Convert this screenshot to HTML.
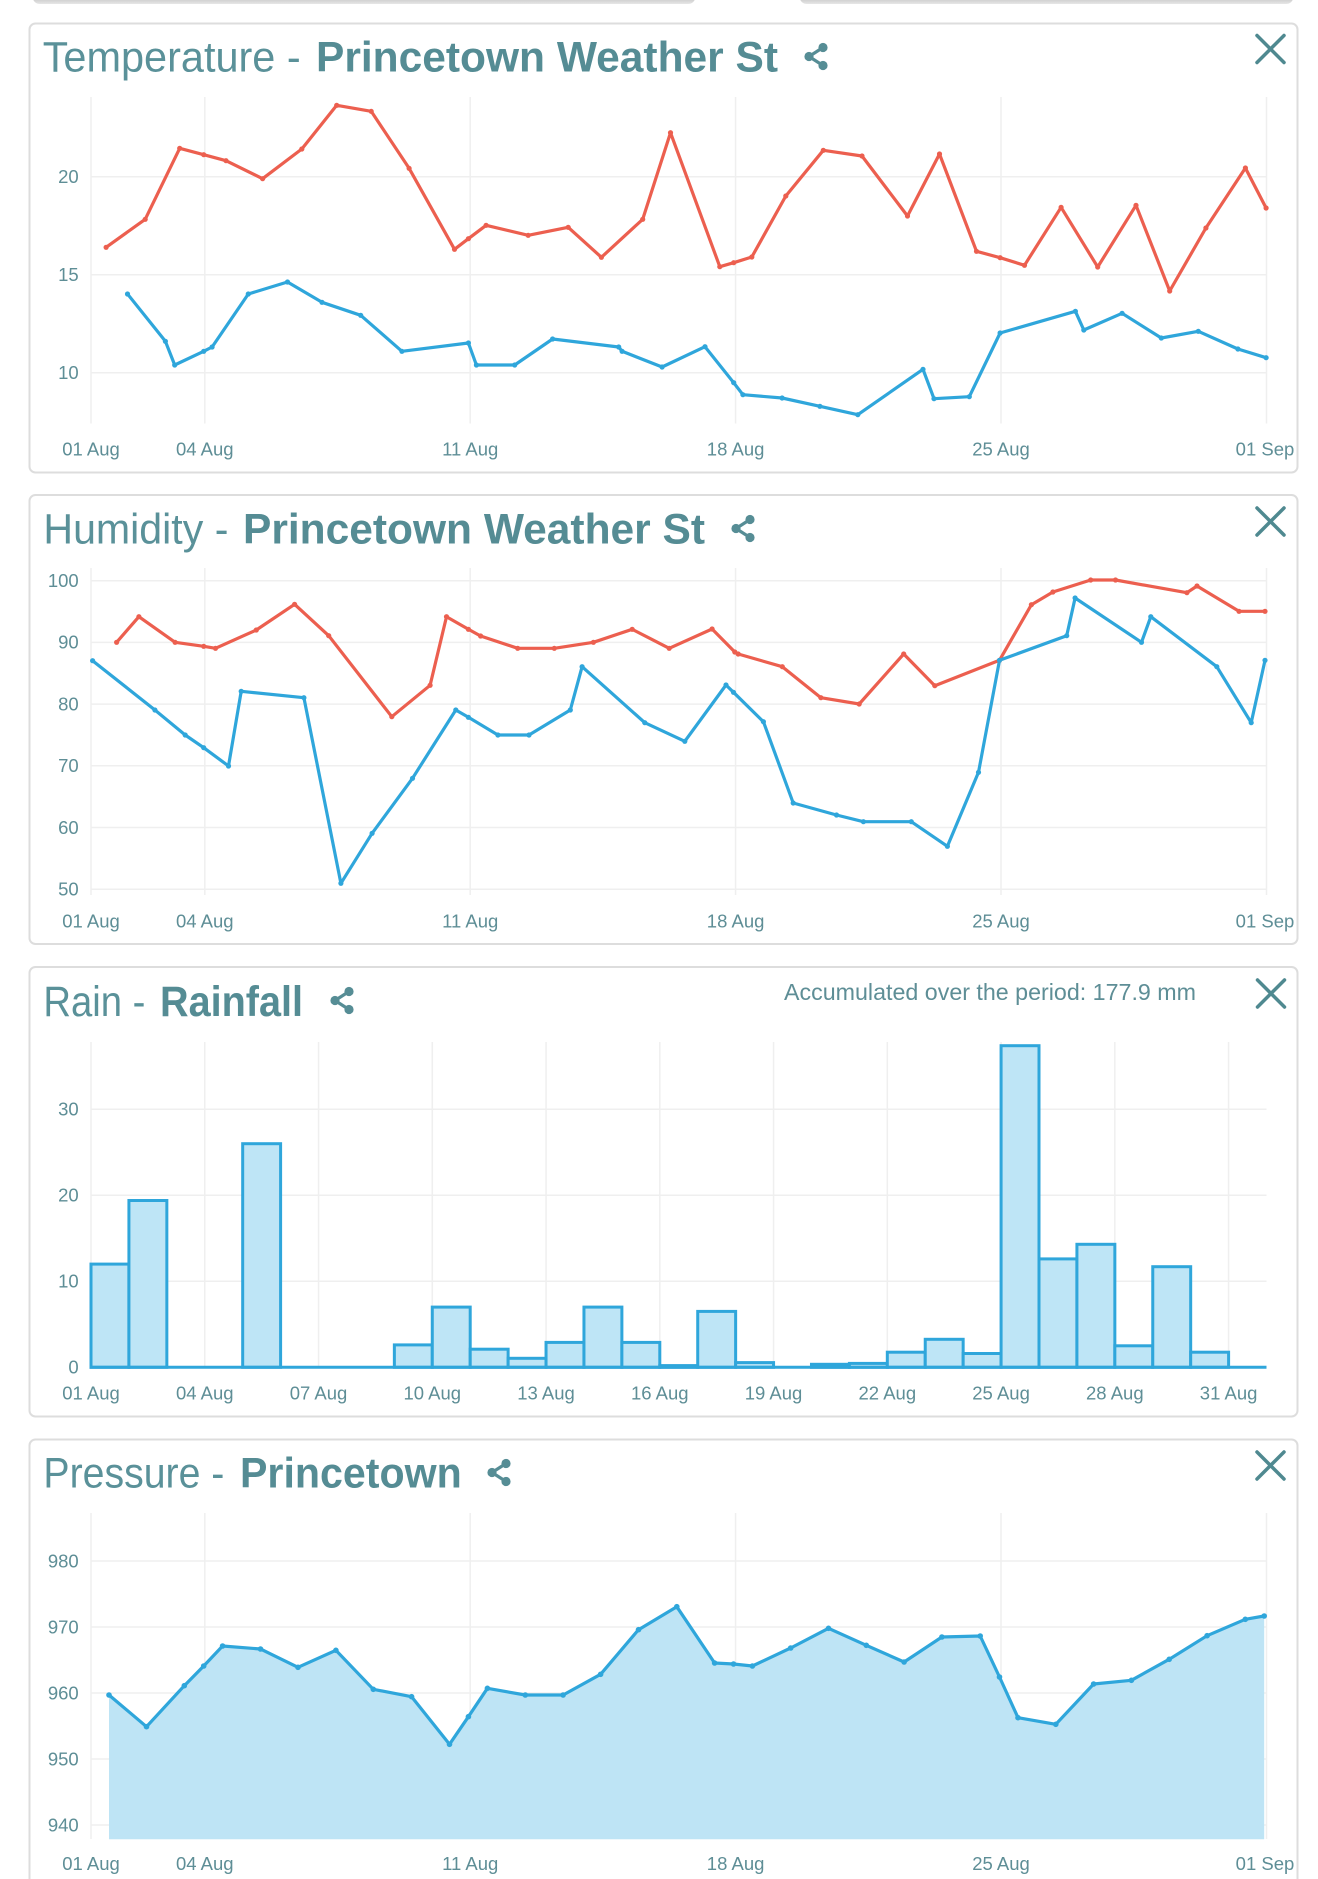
<!DOCTYPE html>
<html><head><meta charset="utf-8">
<style>
html,body{margin:0;padding:0;background:#fff;}
body{width:1318px;height:1879px;overflow:hidden;}
svg{display:block;}
text{font-family:"Liberation Sans",sans-serif;}
.ttl{fill:#5a9199;font-size:43px;}
.ttlb{fill:#558c94;font-size:43px;font-weight:bold;}
.ax{fill:#5e8e96;font-size:18.5px;}
.g{stroke:#efefef;stroke-width:1.5;fill:none;}
.card{fill:#fff;stroke:#dddddd;stroke-width:2;}
.red{fill:none;stroke:#ec5f4f;stroke-width:3.2;stroke-linejoin:round;stroke-linecap:round;}
.blue{fill:none;stroke:#2fa6db;stroke-width:3.2;stroke-linejoin:round;stroke-linecap:round;}
.x{stroke:#4f8990;stroke-width:3.5;stroke-linecap:round;}
.sh{fill:#568d95;}
.shl{stroke:#568d95;stroke-width:3.2;}
</style></head>
<body>
<svg width="1318" height="1879" viewBox="0 0 1318 1879" xmlns="http://www.w3.org/2000/svg">
<defs>
<g id="share">
<line class="shl" x1="18.5" y1="4.5" x2="4.5" y2="13.5"/>
<line class="shl" x1="4.5" y1="13.5" x2="18.5" y2="22.5"/>
<circle class="sh" cx="18.5" cy="4.5" r="4.6"/>
<circle class="sh" cx="4.5" cy="13.5" r="4.6"/>
<circle class="sh" cx="18.5" cy="22.5" r="4.6"/>
</g>
<g id="close">
<line class="x" x1="0" y1="0" x2="27" y2="27"/>
<line class="x" x1="27" y1="0" x2="0" y2="27"/>
</g>
<linearGradient id="topbar" x1="0" y1="0" x2="0" y2="1">
<stop offset="0" stop-color="#a9a9a9"/><stop offset="1" stop-color="#e6e6e6"/>
</linearGradient>
</defs>

<!-- top partial buttons -->
<rect x="33" y="-8" width="662" height="12" rx="7" fill="url(#topbar)"/>
<rect x="800" y="-8" width="493" height="12" rx="7" fill="url(#topbar)"/>

<!-- ============ TEMPERATURE ============ -->
<rect class="card" x="29.5" y="23.5" width="1268" height="449" rx="6"/>
<text class="ttl" x="42.7" y="71.7" textLength="258" lengthAdjust="spacingAndGlyphs">Temperature -</text>
<text class="ttlb" x="316" y="71.7" textLength="462" lengthAdjust="spacingAndGlyphs">Princetown Weather St</text>
<use href="#share" x="804.5" y="43"/>
<use href="#close" x="1257" y="35.5"/>
<g class="g">
<line x1="91" y1="176.7" x2="1266.5" y2="176.7"/>
<line x1="91" y1="274.7" x2="1266.5" y2="274.7"/>
<line x1="91" y1="372.7" x2="1266.5" y2="372.7"/>
<line x1="91" y1="97" x2="91" y2="423.5"/>
<line x1="204.8" y1="97" x2="204.8" y2="423.5"/>
<line x1="470.2" y1="97" x2="470.2" y2="423.5"/>
<line x1="735.6" y1="97" x2="735.6" y2="423.5"/>
<line x1="1001" y1="97" x2="1001" y2="423.5"/>
<line x1="1266.5" y1="97" x2="1266.5" y2="423.5"/>
</g>
<g class="ax" text-anchor="end">
<text x="78.7" y="183">20</text>
<text x="78.7" y="281">15</text>
<text x="78.7" y="379">10</text>
</g>
<g class="ax" text-anchor="middle">
<text x="91" y="455.3">01 Aug</text>
<text x="204.8" y="455.3">04 Aug</text>
<text x="470.2" y="455.3">11 Aug</text>
<text x="735.6" y="455.3">18 Aug</text>
<text x="1001" y="455.3">25 Aug</text>
<text x="1265" y="455.3">01 Sep</text>
</g>
<polyline class="red" points="106.1,247.3 145.2,219.3 179.7,148.3 203.7,154.7 226.0,160.7 262.6,178.7 301.8,149.0 336.7,105.3 371.2,111.3 409.1,168.3 454.5,249.3 468.4,238.7 486.1,225.3 528.2,235.3 568.2,227.3 601.4,257.3 642.7,219.3 670.5,132.7 719.8,266.7 733.7,262.7 751.8,257.0 785.8,196.0 823.3,150.3 862.0,156.0 907.5,216.0 939.5,154.0 976.5,251.3 1000.1,257.7 1024.5,265.3 1061.1,207.3 1097.7,267.0 1136.0,205.3 1169.7,291.0 1205.9,228.0 1245.4,168.0 1266.1,208.0"/>
<polyline class="blue" points="127.5,294.0 165.4,341.3 174.7,365.0 203.7,351.3 212.1,347.0 248.3,294.0 287.5,282.0 322.0,302.3 360.7,315.3 401.9,351.3 468.4,343.0 476.4,365.0 514.7,365.0 552.6,339.0 618.7,347.0 622.1,351.3 662.1,367.0 705.0,346.7 733.7,382.7 742.9,394.7 782.1,398.0 819.9,406.3 857.8,414.7 923.0,369.3 934.0,398.7 969.3,396.7 1000.1,333.0 1075.4,311.3 1083.8,330.0 1122.1,313.3 1161.3,338.0 1198.3,331.3 1237.9,349.0 1266.1,357.7"/>
<g fill="#ec5f4f">
<circle cx="106.1" cy="247.3" r="2.6"/><circle cx="145.2" cy="219.3" r="2.6"/><circle cx="179.7" cy="148.3" r="2.6"/><circle cx="203.7" cy="154.7" r="2.6"/><circle cx="226.0" cy="160.7" r="2.6"/><circle cx="262.6" cy="178.7" r="2.6"/><circle cx="301.8" cy="149.0" r="2.6"/><circle cx="336.7" cy="105.3" r="2.6"/><circle cx="371.2" cy="111.3" r="2.6"/><circle cx="409.1" cy="168.3" r="2.6"/><circle cx="454.5" cy="249.3" r="2.6"/><circle cx="468.4" cy="238.7" r="2.6"/><circle cx="486.1" cy="225.3" r="2.6"/><circle cx="528.2" cy="235.3" r="2.6"/><circle cx="568.2" cy="227.3" r="2.6"/><circle cx="601.4" cy="257.3" r="2.6"/><circle cx="642.7" cy="219.3" r="2.6"/><circle cx="670.5" cy="132.7" r="2.6"/><circle cx="719.8" cy="266.7" r="2.6"/><circle cx="733.7" cy="262.7" r="2.6"/><circle cx="751.8" cy="257.0" r="2.6"/><circle cx="785.8" cy="196.0" r="2.6"/><circle cx="823.3" cy="150.3" r="2.6"/><circle cx="862.0" cy="156.0" r="2.6"/><circle cx="907.5" cy="216.0" r="2.6"/><circle cx="939.5" cy="154.0" r="2.6"/><circle cx="976.5" cy="251.3" r="2.6"/><circle cx="1000.1" cy="257.7" r="2.6"/><circle cx="1024.5" cy="265.3" r="2.6"/><circle cx="1061.1" cy="207.3" r="2.6"/><circle cx="1097.7" cy="267.0" r="2.6"/><circle cx="1136.0" cy="205.3" r="2.6"/><circle cx="1169.7" cy="291.0" r="2.6"/><circle cx="1205.9" cy="228.0" r="2.6"/><circle cx="1245.4" cy="168.0" r="2.6"/><circle cx="1266.1" cy="208.0" r="2.6"/>
</g>
<g fill="#2fa6db">
<circle cx="127.5" cy="294.0" r="2.6"/><circle cx="165.4" cy="341.3" r="2.6"/><circle cx="174.7" cy="365.0" r="2.6"/><circle cx="203.7" cy="351.3" r="2.6"/><circle cx="212.1" cy="347.0" r="2.6"/><circle cx="248.3" cy="294.0" r="2.6"/><circle cx="287.5" cy="282.0" r="2.6"/><circle cx="322.0" cy="302.3" r="2.6"/><circle cx="360.7" cy="315.3" r="2.6"/><circle cx="401.9" cy="351.3" r="2.6"/><circle cx="468.4" cy="343.0" r="2.6"/><circle cx="476.4" cy="365.0" r="2.6"/><circle cx="514.7" cy="365.0" r="2.6"/><circle cx="552.6" cy="339.0" r="2.6"/><circle cx="618.7" cy="347.0" r="2.6"/><circle cx="622.1" cy="351.3" r="2.6"/><circle cx="662.1" cy="367.0" r="2.6"/><circle cx="705.0" cy="346.7" r="2.6"/><circle cx="733.7" cy="382.7" r="2.6"/><circle cx="742.9" cy="394.7" r="2.6"/><circle cx="782.1" cy="398.0" r="2.6"/><circle cx="819.9" cy="406.3" r="2.6"/><circle cx="857.8" cy="414.7" r="2.6"/><circle cx="923.0" cy="369.3" r="2.6"/><circle cx="934.0" cy="398.7" r="2.6"/><circle cx="969.3" cy="396.7" r="2.6"/><circle cx="1000.1" cy="333.0" r="2.6"/><circle cx="1075.4" cy="311.3" r="2.6"/><circle cx="1083.8" cy="330.0" r="2.6"/><circle cx="1122.1" cy="313.3" r="2.6"/><circle cx="1161.3" cy="338.0" r="2.6"/><circle cx="1198.3" cy="331.3" r="2.6"/><circle cx="1237.9" cy="349.0" r="2.6"/><circle cx="1266.1" cy="357.7" r="2.6"/>
</g>

<!-- ============ HUMIDITY ============ -->
<rect class="card" x="29.5" y="495" width="1268" height="449" rx="6"/>
<text class="ttl" x="43.4" y="543.3" textLength="185" lengthAdjust="spacingAndGlyphs">Humidity -</text>
<text class="ttlb" x="243" y="543.3" textLength="462" lengthAdjust="spacingAndGlyphs">Princetown Weather St</text>
<use href="#share" x="731.5" y="515"/>
<use href="#close" x="1257" y="508"/>
<g class="g">
<line x1="91" y1="580.7" x2="1266.5" y2="580.7"/>
<line x1="91" y1="642.4" x2="1266.5" y2="642.4"/>
<line x1="91" y1="704.1" x2="1266.5" y2="704.1"/>
<line x1="91" y1="765.8" x2="1266.5" y2="765.8"/>
<line x1="91" y1="827.5" x2="1266.5" y2="827.5"/>
<line x1="91" y1="889.3" x2="1266.5" y2="889.3"/>
<line x1="91" y1="568" x2="91" y2="895"/>
<line x1="204.8" y1="568" x2="204.8" y2="895"/>
<line x1="470.2" y1="568" x2="470.2" y2="895"/>
<line x1="735.6" y1="568" x2="735.6" y2="895"/>
<line x1="1001" y1="568" x2="1001" y2="895"/>
<line x1="1266.5" y1="568" x2="1266.5" y2="895"/>
</g>
<g class="ax" text-anchor="end">
<text x="78.7" y="587">100</text>
<text x="78.7" y="648.7">90</text>
<text x="78.7" y="710.4">80</text>
<text x="78.7" y="772.1">70</text>
<text x="78.7" y="833.8">60</text>
<text x="78.7" y="895.6">50</text>
</g>
<g class="ax" text-anchor="middle">
<text x="91" y="927.3">01 Aug</text>
<text x="204.8" y="927.3">04 Aug</text>
<text x="470.2" y="927.3">11 Aug</text>
<text x="735.6" y="927.3">18 Aug</text>
<text x="1001" y="927.3">25 Aug</text>
<text x="1265" y="927.3">01 Sep</text>
</g>
<polyline class="red" points="116.6,642.3 138.9,616.7 175.1,642.3 203.7,646.3 215.5,648.3 256.3,630.0 294.6,604.3 328.7,635.7 391.8,716.7 430.1,685.3 446.5,616.7 468.4,629.3 480.6,636.0 517.7,648.3 554.3,648.3 593.4,642.3 632.2,629.3 669.2,648.3 712.1,629.0 734.8,652.0 738.2,654.0 782.3,666.7 820.9,697.7 859.2,704.0 903.7,654.0 934.8,685.7 999.5,660.3 1031.4,604.7 1052.9,592.0 1090.7,580.0 1115.5,580.0 1186.9,592.7 1197.0,586.0 1239.0,611.3 1265.0,611.3"/>
<polyline class="blue" points="92.6,660.7 154.9,710.0 185.2,735.0 203.7,747.7 228.5,766.0 241.2,691.3 303.9,697.7 340.9,883.3 372.1,833.3 412.5,778.3 455.8,710.0 468.4,717.3 497.9,735.0 529.0,735.0 570.3,710.0 582.1,666.7 644.8,722.7 684.8,741.3 726.0,685.0 733.5,692.3 763.4,721.7 793.2,803.0 836.5,815.0 863.4,821.7 911.3,821.7 947.4,846.3 978.5,772.3 999.5,660.3 1066.7,635.7 1075.1,598.0 1141.5,642.3 1150.8,616.7 1216.8,666.7 1251.2,722.7 1265.0,660.3"/>
<g fill="#ec5f4f">
<circle cx="116.6" cy="642.3" r="2.6"/><circle cx="138.9" cy="616.7" r="2.6"/><circle cx="175.1" cy="642.3" r="2.6"/><circle cx="203.7" cy="646.3" r="2.6"/><circle cx="215.5" cy="648.3" r="2.6"/><circle cx="256.3" cy="630.0" r="2.6"/><circle cx="294.6" cy="604.3" r="2.6"/><circle cx="328.7" cy="635.7" r="2.6"/><circle cx="391.8" cy="716.7" r="2.6"/><circle cx="430.1" cy="685.3" r="2.6"/><circle cx="446.5" cy="616.7" r="2.6"/><circle cx="468.4" cy="629.3" r="2.6"/><circle cx="480.6" cy="636.0" r="2.6"/><circle cx="517.7" cy="648.3" r="2.6"/><circle cx="554.3" cy="648.3" r="2.6"/><circle cx="593.4" cy="642.3" r="2.6"/><circle cx="632.2" cy="629.3" r="2.6"/><circle cx="669.2" cy="648.3" r="2.6"/><circle cx="712.1" cy="629.0" r="2.6"/><circle cx="734.8" cy="652.0" r="2.6"/><circle cx="738.2" cy="654.0" r="2.6"/><circle cx="782.3" cy="666.7" r="2.6"/><circle cx="820.9" cy="697.7" r="2.6"/><circle cx="859.2" cy="704.0" r="2.6"/><circle cx="903.7" cy="654.0" r="2.6"/><circle cx="934.8" cy="685.7" r="2.6"/><circle cx="999.5" cy="660.3" r="2.6"/><circle cx="1031.4" cy="604.7" r="2.6"/><circle cx="1052.9" cy="592.0" r="2.6"/><circle cx="1090.7" cy="580.0" r="2.6"/><circle cx="1115.5" cy="580.0" r="2.6"/><circle cx="1186.9" cy="592.7" r="2.6"/><circle cx="1197.0" cy="586.0" r="2.6"/><circle cx="1239.0" cy="611.3" r="2.6"/><circle cx="1265.0" cy="611.3" r="2.6"/>
</g>
<g fill="#2fa6db">
<circle cx="92.6" cy="660.7" r="2.6"/><circle cx="154.9" cy="710.0" r="2.6"/><circle cx="185.2" cy="735.0" r="2.6"/><circle cx="203.7" cy="747.7" r="2.6"/><circle cx="228.5" cy="766.0" r="2.6"/><circle cx="241.2" cy="691.3" r="2.6"/><circle cx="303.9" cy="697.7" r="2.6"/><circle cx="340.9" cy="883.3" r="2.6"/><circle cx="372.1" cy="833.3" r="2.6"/><circle cx="412.5" cy="778.3" r="2.6"/><circle cx="455.8" cy="710.0" r="2.6"/><circle cx="468.4" cy="717.3" r="2.6"/><circle cx="497.9" cy="735.0" r="2.6"/><circle cx="529.0" cy="735.0" r="2.6"/><circle cx="570.3" cy="710.0" r="2.6"/><circle cx="582.1" cy="666.7" r="2.6"/><circle cx="644.8" cy="722.7" r="2.6"/><circle cx="684.8" cy="741.3" r="2.6"/><circle cx="726.0" cy="685.0" r="2.6"/><circle cx="733.5" cy="692.3" r="2.6"/><circle cx="763.4" cy="721.7" r="2.6"/><circle cx="793.2" cy="803.0" r="2.6"/><circle cx="836.5" cy="815.0" r="2.6"/><circle cx="863.4" cy="821.7" r="2.6"/><circle cx="911.3" cy="821.7" r="2.6"/><circle cx="947.4" cy="846.3" r="2.6"/><circle cx="978.5" cy="772.3" r="2.6"/><circle cx="999.5" cy="660.3" r="2.6"/><circle cx="1066.7" cy="635.7" r="2.6"/><circle cx="1075.1" cy="598.0" r="2.6"/><circle cx="1141.5" cy="642.3" r="2.6"/><circle cx="1150.8" cy="616.7" r="2.6"/><circle cx="1216.8" cy="666.7" r="2.6"/><circle cx="1251.2" cy="722.7" r="2.6"/><circle cx="1265.0" cy="660.3" r="2.6"/>
</g>

<!-- ============ RAIN ============ -->
<rect class="card" x="29.5" y="967" width="1268" height="449.5" rx="6"/>
<text class="ttl" x="43.4" y="1016" textLength="102" lengthAdjust="spacingAndGlyphs">Rain -</text>
<text class="ttlb" x="160" y="1016" textLength="143" lengthAdjust="spacingAndGlyphs">Rainfall</text>
<use href="#share" x="330.5" y="987"/>
<use href="#close" x="1257.5" y="980"/>
<text x="784" y="1000" fill="#5e8e96" font-size="23" textLength="412" lengthAdjust="spacingAndGlyphs">Accumulated over the period: 177.9 mm</text>
<g class="g">
<line x1="91" y1="1109.3" x2="1266.5" y2="1109.3"/>
<line x1="91" y1="1195.3" x2="1266.5" y2="1195.3"/>
<line x1="91" y1="1281.3" x2="1266.5" y2="1281.3"/>
<line x1="91" y1="1042" x2="91" y2="1367"/>
<line x1="204.76" y1="1042" x2="204.76" y2="1367"/>
<line x1="318.52" y1="1042" x2="318.52" y2="1367"/>
<line x1="432.28" y1="1042" x2="432.28" y2="1367"/>
<line x1="546.04" y1="1042" x2="546.04" y2="1367"/>
<line x1="659.8" y1="1042" x2="659.8" y2="1367"/>
<line x1="773.56" y1="1042" x2="773.56" y2="1367"/>
<line x1="887.32" y1="1042" x2="887.32" y2="1367"/>
<line x1="1001.08" y1="1042" x2="1001.08" y2="1367"/>
<line x1="1114.84" y1="1042" x2="1114.84" y2="1367"/>
<line x1="1228.6" y1="1042" x2="1228.6" y2="1367"/>
</g>
<g class="ax" text-anchor="end">
<text x="78.7" y="1115.6">30</text>
<text x="78.7" y="1201.6">20</text>
<text x="78.7" y="1287.6">10</text>
<text x="78.7" y="1373.6">0</text>
</g>
<g class="ax" text-anchor="middle">
<text x="91" y="1399.3">01 Aug</text>
<text x="204.76" y="1399.3">04 Aug</text>
<text x="318.52" y="1399.3">07 Aug</text>
<text x="432.28" y="1399.3">10 Aug</text>
<text x="546.04" y="1399.3">13 Aug</text>
<text x="659.8" y="1399.3">16 Aug</text>
<text x="773.56" y="1399.3">19 Aug</text>
<text x="887.32" y="1399.3">22 Aug</text>
<text x="1001.08" y="1399.3">25 Aug</text>
<text x="1114.84" y="1399.3">28 Aug</text>
<text x="1228.6" y="1399.3">31 Aug</text>
</g>
<g fill="#bee5f6" stroke="#2fa6db" stroke-width="3" stroke-linejoin="miter">
<rect x="91" y="1264.1" width="37.92" height="103.2"/>
<rect x="128.92" y="1200.5" width="37.92" height="166.8"/>
<rect x="242.68" y="1143.7" width="37.92" height="223.6"/>
<rect x="394.36" y="1344.9" width="37.92" height="22.4"/>
<rect x="432.28" y="1307.1" width="37.92" height="60.2"/>
<rect x="470.2" y="1349.2" width="37.92" height="18.1"/>
<rect x="508.12" y="1358.3" width="37.92" height="9"/>
<rect x="546.04" y="1342.4" width="37.92" height="24.9"/>
<rect x="583.96" y="1307.1" width="37.92" height="60.2"/>
<rect x="621.88" y="1342.4" width="37.92" height="24.9"/>
<rect x="659.8" y="1365.6" width="37.92" height="1.7"/>
<rect x="697.72" y="1311.4" width="37.92" height="55.9"/>
<rect x="735.64" y="1362.6" width="37.92" height="4.7"/>
<rect x="811.48" y="1364.3" width="37.92" height="3"/>
<rect x="849.4" y="1363.4" width="37.92" height="3.9"/>
<rect x="887.32" y="1352.2" width="37.92" height="15.1"/>
<rect x="925.24" y="1339.3" width="37.92" height="28"/>
<rect x="963.16" y="1353.5" width="37.92" height="13.8"/>
<rect x="1001.08" y="1045.7" width="37.92" height="321.6"/>
<rect x="1039" y="1258.9" width="37.92" height="108.4"/>
<rect x="1076.92" y="1244.3" width="37.92" height="123"/>
<rect x="1114.84" y="1345.8" width="37.92" height="21.5"/>
<rect x="1152.76" y="1266.7" width="37.92" height="100.6"/>
<rect x="1190.68" y="1352.2" width="37.92" height="15.1"/>
</g>
<line x1="89.5" y1="1367.3" x2="1266.5" y2="1367.3" stroke="#2fa6db" stroke-width="3"/>

<!-- ============ PRESSURE ============ -->
<rect class="card" x="29.5" y="1439.5" width="1268" height="470" rx="6"/>
<text class="ttl" x="43.4" y="1487.7" textLength="181" lengthAdjust="spacingAndGlyphs">Pressure -</text>
<text class="ttlb" x="240" y="1487.7" textLength="221.7" lengthAdjust="spacingAndGlyphs">Princetown</text>
<use href="#share" x="487.5" y="1459"/>
<use href="#close" x="1257" y="1452"/>
<g class="g">
<line x1="91" y1="1561" x2="1266.5" y2="1561"/>
<line x1="91" y1="1627" x2="1266.5" y2="1627"/>
<line x1="91" y1="1693" x2="1266.5" y2="1693"/>
<line x1="91" y1="1759" x2="1266.5" y2="1759"/>
<line x1="91" y1="1825" x2="1266.5" y2="1825"/>
<line x1="91" y1="1513" x2="91" y2="1839"/>
<line x1="204.8" y1="1513" x2="204.8" y2="1839"/>
<line x1="470.2" y1="1513" x2="470.2" y2="1839"/>
<line x1="735.6" y1="1513" x2="735.6" y2="1839"/>
<line x1="1001" y1="1513" x2="1001" y2="1839"/>
<line x1="1266.5" y1="1513" x2="1266.5" y2="1839"/>
</g>
<g class="ax" text-anchor="end">
<text x="78.7" y="1567.3">980</text>
<text x="78.7" y="1633.3">970</text>
<text x="78.7" y="1699.3">960</text>
<text x="78.7" y="1765.3">950</text>
<text x="78.7" y="1831.3">940</text>
</g>
<g class="ax" text-anchor="middle">
<text x="91" y="1870">01 Aug</text>
<text x="204.8" y="1870">04 Aug</text>
<text x="470.2" y="1870">11 Aug</text>
<text x="735.6" y="1870">18 Aug</text>
<text x="1001" y="1870">25 Aug</text>
<text x="1265" y="1870">01 Sep</text>
</g>
<polygon fill="#bee4f5" points="109.0,1695.0 146.5,1726.7 184.3,1685.7 203.7,1666.0 222.6,1646.0 260.5,1649.0 298.0,1667.3 335.9,1650.3 373.3,1689.3 411.6,1696.7 449.5,1744.3 468.4,1716.7 487.4,1688.3 525.3,1695.0 563.1,1695.0 600.6,1674.3 638.5,1629.7 676.8,1606.7 714.6,1663.0 733.5,1664.0 752.4,1666.0 790.7,1648.0 828.5,1628.3 866.3,1645.3 904.1,1662.0 941.9,1637.0 980.2,1636.0 999.5,1677.0 1018.0,1717.7 1055.8,1724.3 1093.6,1684.0 1131.4,1680.3 1169.2,1659.3 1207.1,1635.7 1245.3,1619.3 1264.2,1616.0 1264.2,1839.3 109.0,1839.3"/>
<polyline class="blue" stroke-width="3" points="109.0,1695.0 146.5,1726.7 184.3,1685.7 203.7,1666.0 222.6,1646.0 260.5,1649.0 298.0,1667.3 335.9,1650.3 373.3,1689.3 411.6,1696.7 449.5,1744.3 468.4,1716.7 487.4,1688.3 525.3,1695.0 563.1,1695.0 600.6,1674.3 638.5,1629.7 676.8,1606.7 714.6,1663.0 733.5,1664.0 752.4,1666.0 790.7,1648.0 828.5,1628.3 866.3,1645.3 904.1,1662.0 941.9,1637.0 980.2,1636.0 999.5,1677.0 1018.0,1717.7 1055.8,1724.3 1093.6,1684.0 1131.4,1680.3 1169.2,1659.3 1207.1,1635.7 1245.3,1619.3 1264.2,1616.0"/>
<g fill="#2fa6db">
<circle cx="109.0" cy="1695.0" r="2.8"/><circle cx="146.5" cy="1726.7" r="2.8"/><circle cx="184.3" cy="1685.7" r="2.8"/><circle cx="203.7" cy="1666.0" r="2.8"/><circle cx="222.6" cy="1646.0" r="2.8"/><circle cx="260.5" cy="1649.0" r="2.8"/><circle cx="298.0" cy="1667.3" r="2.8"/><circle cx="335.9" cy="1650.3" r="2.8"/><circle cx="373.3" cy="1689.3" r="2.8"/><circle cx="411.6" cy="1696.7" r="2.8"/><circle cx="449.5" cy="1744.3" r="2.8"/><circle cx="468.4" cy="1716.7" r="2.8"/><circle cx="487.4" cy="1688.3" r="2.8"/><circle cx="525.3" cy="1695.0" r="2.8"/><circle cx="563.1" cy="1695.0" r="2.8"/><circle cx="600.6" cy="1674.3" r="2.8"/><circle cx="638.5" cy="1629.7" r="2.8"/><circle cx="676.8" cy="1606.7" r="2.8"/><circle cx="714.6" cy="1663.0" r="2.8"/><circle cx="733.5" cy="1664.0" r="2.8"/><circle cx="752.4" cy="1666.0" r="2.8"/><circle cx="790.7" cy="1648.0" r="2.8"/><circle cx="828.5" cy="1628.3" r="2.8"/><circle cx="866.3" cy="1645.3" r="2.8"/><circle cx="904.1" cy="1662.0" r="2.8"/><circle cx="941.9" cy="1637.0" r="2.8"/><circle cx="980.2" cy="1636.0" r="2.8"/><circle cx="999.5" cy="1677.0" r="2.8"/><circle cx="1018.0" cy="1717.7" r="2.8"/><circle cx="1055.8" cy="1724.3" r="2.8"/><circle cx="1093.6" cy="1684.0" r="2.8"/><circle cx="1131.4" cy="1680.3" r="2.8"/><circle cx="1169.2" cy="1659.3" r="2.8"/><circle cx="1207.1" cy="1635.7" r="2.8"/><circle cx="1245.3" cy="1619.3" r="2.8"/><circle cx="1264.2" cy="1616.0" r="2.8"/>
</g>
</svg>
</body></html>
